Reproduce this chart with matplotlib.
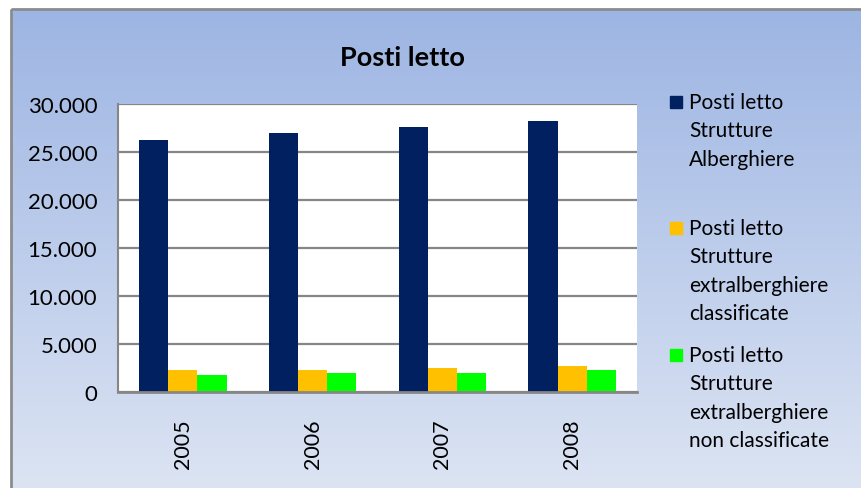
import matplotlib.pyplot as plt
import numpy as np
from matplotlib.patches import Rectangle
from matplotlib.ticker import FuncFormatter

years = ['2005', '2006', '2007', '2008']
alberghiere = [26200, 27000, 27600, 28200]
extra_class = [2320, 2320, 2530, 2740]
extra_non_class = [1800, 2010, 2010, 2320]

series = [alberghiere, extra_class, extra_non_class]
labels = [['Posti letto', 'Strutture', 'Alberghiere'],
          ['Posti letto', 'Strutture', 'extralberghiere', 'classificate'],
          ['Posti letto', 'Strutture', 'extralberghiere', 'non classificate']]
colors = ['#002060', '#FFC000', '#00FF00']

W, H = 861, 489
plt.rcParams['font.family'] = ['Lato', 'DejaVu Sans']

fig = plt.figure(figsize=(W / 100, H / 100), dpi=100)
fig.patch.set_facecolor('white')

# gradient background of chart area
bg = fig.add_axes([0, 0, 1, 1], zorder=-1)
top = np.array([0x9D, 0xB5, 0xE3]) / 255
bot = np.array([0xDC, 0xE4, 0xF3]) / 255
t = np.linspace(0, 1, 256)[:, None]
grad = (top * (1 - t) + bot * t)[:, None, :]
bg.imshow(grad, aspect='auto', extent=[11, W, H, 10])
bg.add_patch(Rectangle((11, 10), W, H, fill=False, ec='#8c8c8c', lw=2))
bg.set_xlim(0, W)
bg.set_ylim(H, 0)
bg.axis('off')

ax = fig.add_axes([118 / W, 1 - 393 / H, (637 - 118) / W, (393 - 105) / H])
ax.set_facecolor('white')

x = np.arange(len(years))
bw = 0.225
for i, (vals, c) in enumerate(zip(series, colors)):
    ax.bar(x + (i - 1) * bw, vals, bw, color=c, zorder=3)

ax.set_xlim(-0.5, 3.5)
ax.set_ylim(0, 30000)
ax.set_yticks(range(0, 30001, 5000))
ax.yaxis.set_major_formatter(FuncFormatter(lambda v, p: f'{int(v):,}'.replace(',', '.')))
ax.set_xticks(x)
ax.set_xticklabels(years, rotation=90)
ax.tick_params(axis='y', length=0, pad=15, labelsize=16)
ax.tick_params(axis='x', length=0, pad=19, labelsize=15.5)
ax.grid(axis='y', color='#868686', lw=1.6, zorder=1)
for s in ['top', 'right']:
    ax.spines[s].set_visible(False)
ax.spines['left'].set_color('#868686')
ax.spines['left'].set_linewidth(1.5)
ax.spines['bottom'].set_color('#868686')
ax.spines['bottom'].set_linewidth(2)
ax.spines['bottom'].set_zorder(4)

fig.text(402 / W, 1 - 58 / H, 'Posti letto', ha='center', va='center',
         fontsize=19.5, fontweight='bold')

# legend
y0s = [103, 229, 356]
for lab, c, y0 in zip(labels, colors, y0s):
    fig.patches.append(Rectangle((670 / W, 1 - (y0 + 6) / H), 12 / W, 12 / H,
                                 color=c, transform=fig.transFigure, figure=fig))
    for j, line in enumerate(lab):
        fig.text(689 / W, 1 - (y0 + j * 28.3) / H, line, ha='left', va='center',
                 fontsize=15)

fig.savefig('out.png', dpi=100)
